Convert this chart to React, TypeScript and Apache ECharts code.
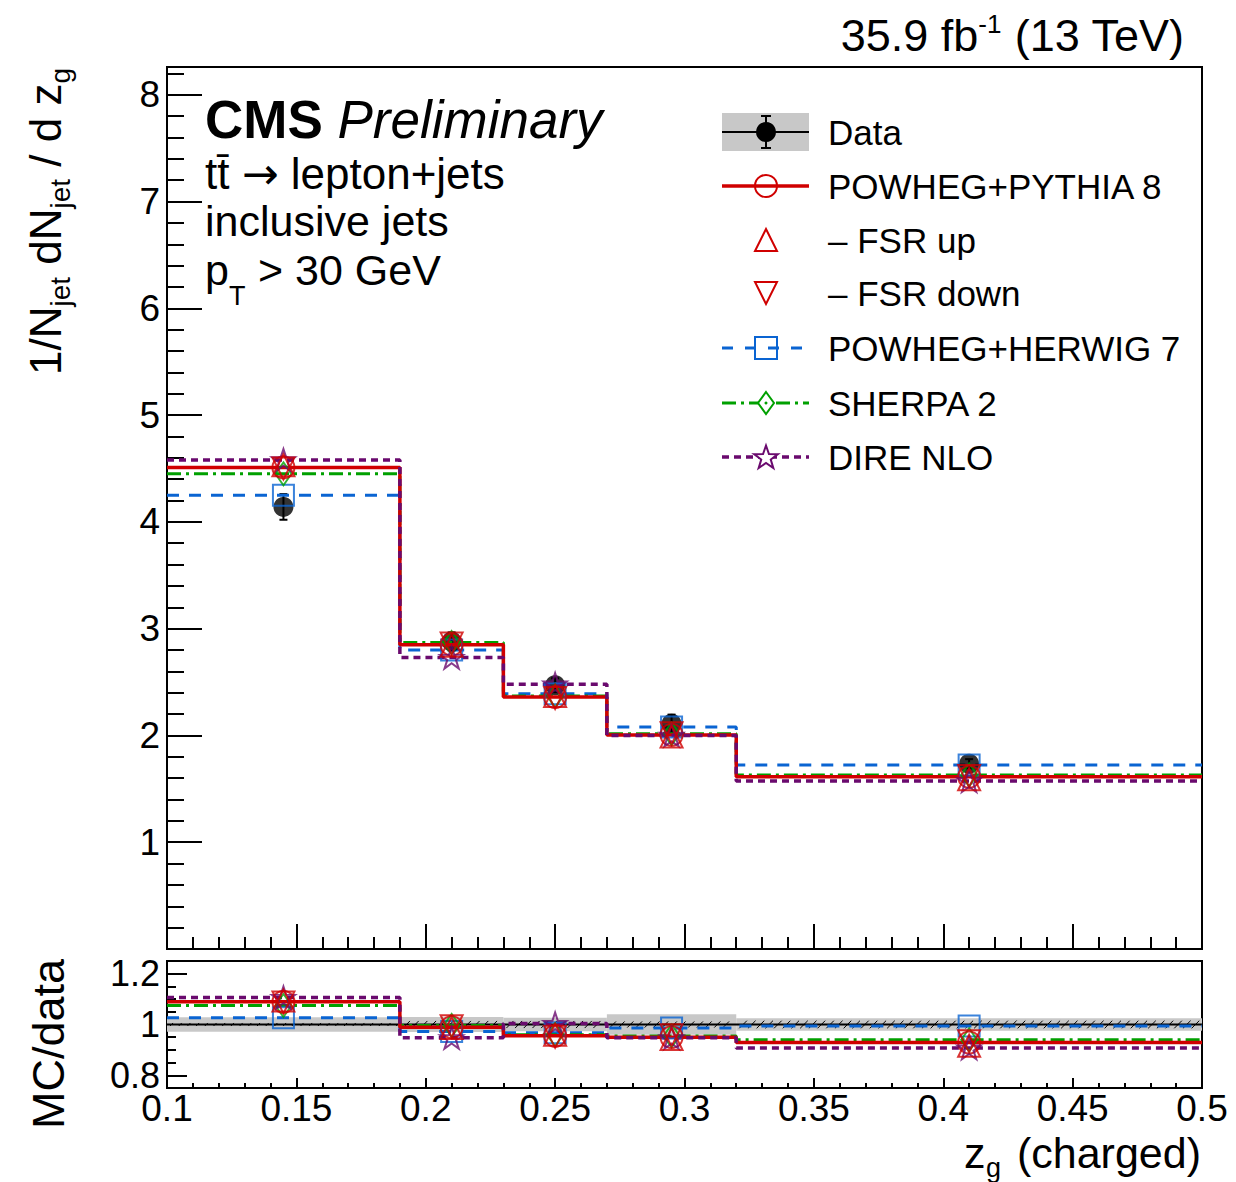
import React, { useEffect, useRef } from "react";
import * as echarts from "echarts";

// ---- data ----
const binEdges = [0.1, 0.19, 0.23, 0.27, 0.32, 0.5];
const dataValues = [4.14, 2.88, 2.47, 2.11, 1.735];
const dataUnc = [0.12, 0.085, 0.065, 0.085, 0.043];
const dataStatRel = [0.006, 0.014, 0.014, 0.012, 0.015];
const pythia8 = [4.51, 2.85, 2.36, 2.005, 1.612];
const fsrUp = [4.53, 2.84, 2.37, 1.99, 1.59];
const fsrDown = [4.5, 2.86, 2.35, 2.02, 1.62];
const herwig7 = [4.25, 2.8, 2.39, 2.08, 1.724];
const sherpa2 = [4.45, 2.87, 2.37, 2.015, 1.63];
const direNlo = [4.58, 2.73, 2.48, 2.0, 1.574];
const ratioYTicks = [0.8, 1, 1.2];
const legendNames = ["Data", "POWHEG+PYTHIA 8", "\u2013 FSR up", "\u2013 FSR down", "POWHEG+HERWIG 7", "SHERPA 2", "DIRE NLO"];

const FONT = "'Liberation Sans', Arial, Helvetica, sans-serif";
const RED = "#d00000";
const BLUE = "#0a64d2";
const GREEN = "#00a000";
const PURPLE = "#6a0a6e";
const GRAY = "#c8c8c8";
const STAR = "path://M50 0 L61.2 34.5 L97.6 34.5 L68.2 55.9 L79.4 90.5 L50 69.1 L20.6 90.5 L31.8 55.9 L2.4 34.5 L38.8 34.5 Z";

const centers = dataValues.map((_, i) => (binEdges[i] + binEdges[i + 1]) / 2);
const stepData = (vals: number[]) => [
  ...vals.map((v, i) => [binEdges[i], v]),
  [binEdges[vals.length], vals[vals.length - 1]],
];
const ratioOf = (vals: number[]) => vals.map((v, i) => v / dataValues[i]);
const pointData = (vals: number[]) => vals.map((v, i) => [centers[i], v]);

function starPoints(cx: number, cy: number, R: number, r: number) {
  const pts: number[][] = [];
  for (let k = 0; k < 10; k++) {
    const a = -Math.PI / 2 + (k * Math.PI) / 5;
    const rr = k % 2 === 0 ? R : r;
    pts.push([cx + rr * Math.cos(a), cy + rr * Math.sin(a)]);
  }
  return pts;
}

const mcDefs = [
  { vals: herwig7, color: BLUE, width: 3, type: [12, 10] as any, symbol: "rect", size: 21 as any },
  { vals: sherpa2, color: GREEN, width: 3, type: [14, 5, 3, 5] as any, symbol: "diamond", size: [16, 23] as any },
  { vals: pythia8, color: RED, width: 3.5, type: "solid" as any, symbol: "circle", size: 22 as any },
  { vals: direNlo, color: PURPLE, width: 3.5, type: [7, 5] as any, symbol: STAR, size: [23, 22] as any },
];
const markerOnly = [
  { vals: fsrUp, color: RED, symbol: "triangle", size: 22, rot: 0 },
  { vals: fsrDown, color: RED, symbol: "triangle", size: 22, rot: 180 },
];

function txt(x: number, baseline: number, text: string, fontSize: number, align = "left", extra: any = {}) {
  return {
    type: "text",
    x,
    y: baseline - 0.35 * fontSize,
    style: { text, fontSize, fontFamily: FONT, fill: "#000", align, verticalAlign: "middle", lineHeight: Math.round(fontSize * 0.8), ...extra },
  };
}

function buildOption() {
  const series: any[] = [];
  series.push({
    type: "custom",
    xAxisIndex: 0,
    yAxisIndex: 0,
    z: 2,
    data: centers.map((c, i) => [c, dataValues[i] - dataUnc[i], dataValues[i] + dataUnc[i]]),
    renderItem: (_p: any, api: any) => {
      const x = api.value(0);
      const a = api.coord([x, api.value(1)]);
      const b = api.coord([x, api.value(2)]);
      const st = { stroke: "#000", lineWidth: 2 };
      return {
        type: "group",
        children: [
          { type: "line", shape: { x1: a[0], y1: a[1], x2: b[0], y2: b[1] }, style: st },
          { type: "line", shape: { x1: a[0] - 4, y1: a[1], x2: a[0] + 4, y2: a[1] }, style: st },
          { type: "line", shape: { x1: b[0] - 4, y1: b[1], x2: b[0] + 4, y2: b[1] }, style: st },
        ],
      };
    },
  });
  series.push({
    type: "scatter",
    xAxisIndex: 0,
    yAxisIndex: 0,
    z: 3,
    symbol: "circle",
    symbolSize: 20,
    itemStyle: { color: "#000" },
    data: pointData(dataValues),
  });

  series.push({
    type: "custom",
    xAxisIndex: 2,
    yAxisIndex: 2,
    z: 1,
    data: dataValues.map((d, i) => [binEdges[i], binEdges[i + 1], 1 - dataUnc[i] / d, 1 + dataUnc[i] / d]),
    renderItem: (_p: any, api: any) => {
      const a = api.coord([api.value(0), api.value(3)]);
      const b = api.coord([api.value(1), api.value(2)]);
      return { type: "rect", shape: { x: a[0], y: a[1], width: b[0] - a[0], height: b[1] - a[1] }, style: { fill: GRAY } };
    },
  });
  series.push({
    type: "custom",
    xAxisIndex: 2,
    yAxisIndex: 2,
    z: 2,
    data: dataStatRel.map((s, i) => [binEdges[i], binEdges[i + 1], 1 - s, 1 + s]),
    renderItem: (_p: any, api: any) => {
      const a = api.coord([api.value(0), api.value(2)]);
      const b = api.coord([api.value(1), api.value(3)]);
      const h = Math.max(a[1] - b[1], 3);
      const yb = (a[1] + b[1]) / 2 + h / 2;
      const children: any[] = [];
      for (let x = a[0] + 3; x + h < b[0]; x += 8.7) {
        children.push({ type: "line", shape: { x1: x, y1: yb, x2: x + h, y2: yb - h }, style: { stroke: "#000", lineWidth: 1 } });
      }
      return { type: "group", children };
    },
  });
  series.push({
    type: "line",
    xAxisIndex: 2,
    yAxisIndex: 2,
    z: 2,
    step: "end",
    symbol: "none",
    lineStyle: { color: "#000", width: 2 },
    data: stepData(ratioOf(dataValues)),
  });

  mcDefs.forEach((m, k) => {
    [0, 1].forEach((panel) => {
      const vals = panel === 0 ? m.vals : ratioOf(m.vals);
      const ax = panel === 0 ? 0 : 2;
      series.push({
        type: "line",
        xAxisIndex: ax,
        yAxisIndex: ax,
        z: 3 + k * 0.01,
        step: "end",
        symbol: "none",
        lineStyle: { color: m.color, width: m.width, type: m.type },
        data: stepData(vals),
      });
      series.push({
        type: "scatter",
        xAxisIndex: ax,
        yAxisIndex: ax,
        z: 5,
        symbol: m.symbol,
        symbolSize: m.size,
        itemStyle: { color: "rgba(0,0,0,0)", borderColor: m.color, borderWidth: 2 },
        data: pointData(vals),
      });
    });
  });
  markerOnly.forEach((m) => {
    [0, 1].forEach((panel) => {
      const vals = panel === 0 ? m.vals : ratioOf(m.vals);
      const ax = panel === 0 ? 0 : 2;
      series.push({
        type: "scatter",
        xAxisIndex: ax,
        yAxisIndex: ax,
        z: 5,
        symbol: m.symbol,
        symbolSize: m.size,
        symbolRotate: m.rot,
        itemStyle: { color: "rgba(0,0,0,0)", borderColor: m.color, borderWidth: 2 },
        data: pointData(vals),
      });
    });
  });

  const axLine = { show: true, lineStyle: { color: "#000", width: 2 } };
  const noLine = { show: false };
  const fmtX = (v: number) => String(parseFloat(v.toFixed(2)));

  const xAxis: any[] = [
    { gridIndex: 0, position: "bottom", type: "value", min: 0.1, max: 0.5, interval: 0.05, axisLine: axLine, splitLine: { show: false },
      axisTick: { inside: true, length: 25, lineStyle: { color: "#000", width: 2 } }, axisLabel: { show: false } },
    { gridIndex: 0, position: "bottom", type: "value", min: 0.1, max: 0.5, interval: 0.01, axisLine: noLine, splitLine: { show: false },
      axisTick: { inside: true, length: 12, lineStyle: { color: "#000", width: 2 } }, axisLabel: { show: false } },
    { gridIndex: 1, position: "bottom", type: "value", min: 0.1, max: 0.5, interval: 0.05, axisLine: axLine, splitLine: { show: false },
      axisTick: { inside: true, length: 10, lineStyle: { color: "#000", width: 2 } },
      axisLabel: { show: true, formatter: fmtX, fontSize: 37, lineHeight: 32, fontFamily: FONT, color: "#000", margin: 4 } },
    { gridIndex: 1, position: "bottom", type: "value", min: 0.1, max: 0.5, interval: 0.01, axisLine: noLine, splitLine: { show: false },
      axisTick: { inside: true, length: 5, lineStyle: { color: "#000", width: 2 } }, axisLabel: { show: false } },
  ];
  const yAxis: any[] = [
    { gridIndex: 0, position: "left", type: "value", min: 0, max: 8.26, interval: 1, axisLine: axLine, splitLine: { show: false },
      axisTick: { inside: true, length: 35, lineStyle: { color: "#000", width: 2 } },
      axisLabel: { show: true, fontSize: 37, fontFamily: FONT, color: "#000", margin: 7,
        formatter: (v: number) => (v > 0.5 && Math.abs(v - Math.round(v)) < 1e-6 ? String(Math.round(v)) : "") } },
    { gridIndex: 0, position: "left", type: "value", min: 0, max: 8.26, interval: 0.2, axisLine: noLine, splitLine: { show: false },
      axisTick: { inside: true, length: 17, lineStyle: { color: "#000", width: 2 } }, axisLabel: { show: false } },
    { gridIndex: 1, position: "left", type: "value", min: 0.75, max: 1.25, axisLine: axLine, splitLine: { show: false },
      axisTick: { inside: true, length: 20, customValues: ratioYTicks, lineStyle: { color: "#000", width: 2 } },
      axisLabel: { show: true, customValues: ratioYTicks, fontSize: 36, fontFamily: FONT, color: "#000", margin: 7,
        formatter: (v: number) => String(parseFloat(v.toFixed(2))) } },
    { gridIndex: 1, position: "left", type: "value", min: 0.75, max: 1.25, interval: 0.05, axisLine: noLine, splitLine: { show: false },
      axisTick: { inside: true, length: 9, lineStyle: { color: "#000", width: 2 } }, axisLabel: { show: false } },
  ];

  // legend graphics
  const rows = [132, 186, 240, 293, 348, 403, 457];
  const lx0 = 722, lx1 = 809, mx = 766, tx = 828;
  const g: any[] = [];
  g.push({ type: "rect", shape: { x: lx0, y: rows[0] - 19, width: lx1 - lx0, height: 38 }, style: { fill: GRAY } });
  g.push({ type: "line", shape: { x1: lx0, y1: rows[0], x2: lx1, y2: rows[0] }, style: { stroke: "#000", lineWidth: 2 } });
  g.push({ type: "line", shape: { x1: mx, y1: rows[0] - 16, x2: mx, y2: rows[0] + 16 }, style: { stroke: "#000", lineWidth: 2 } });
  g.push({ type: "line", shape: { x1: mx - 5, y1: rows[0] - 16, x2: mx + 5, y2: rows[0] - 16 }, style: { stroke: "#000", lineWidth: 2 } });
  g.push({ type: "line", shape: { x1: mx - 5, y1: rows[0] + 16, x2: mx + 5, y2: rows[0] + 16 }, style: { stroke: "#000", lineWidth: 2 } });
  g.push({ type: "circle", shape: { cx: mx, cy: rows[0], r: 10 }, style: { fill: "#000" } });
  g.push({ type: "line", shape: { x1: lx0, y1: rows[1], x2: lx1, y2: rows[1] }, style: { stroke: RED, lineWidth: 3.5 } });
  g.push({ type: "circle", shape: { cx: mx, cy: rows[1], r: 11 }, style: { fill: "none", stroke: RED, lineWidth: 2 } });
  g.push({ type: "polygon", shape: { points: [[mx, rows[2] - 11], [mx + 11, rows[2] + 11], [mx - 11, rows[2] + 11]] }, style: { fill: "none", stroke: RED, lineWidth: 2 } });
  g.push({ type: "polygon", shape: { points: [[mx - 11, rows[3] - 11], [mx + 11, rows[3] - 11], [mx, rows[3] + 11]] }, style: { fill: "none", stroke: RED, lineWidth: 2 } });
  g.push({ type: "line", shape: { x1: lx0, y1: rows[4], x2: lx1, y2: rows[4] }, style: { stroke: BLUE, lineWidth: 3, lineDash: [11, 12] } });
  g.push({ type: "rect", shape: { x: mx - 11, y: rows[4] - 11, width: 22, height: 22 }, style: { fill: "none", stroke: BLUE, lineWidth: 2 } });
  g.push({ type: "line", shape: { x1: lx0, y1: rows[5], x2: lx1, y2: rows[5] }, style: { stroke: GREEN, lineWidth: 3, lineDash: [14, 5, 3, 5] } });
  g.push({ type: "polygon", shape: { points: [[mx, rows[5] - 11], [mx + 8, rows[5]], [mx, rows[5] + 11], [mx - 8, rows[5]]] }, style: { fill: "#fff", stroke: GREEN, lineWidth: 2 } });
  g.push({ type: "circle", shape: { cx: mx, cy: rows[5], r: 1.5 }, style: { fill: GREEN } });
  g.push({ type: "line", shape: { x1: lx0, y1: rows[6], x2: lx1, y2: rows[6] }, style: { stroke: PURPLE, lineWidth: 3.5, lineDash: [7, 5] } });
  g.push({ type: "polygon", shape: { points: starPoints(mx, rows[6] + 1, 12.5, 5) }, style: { fill: "#fff", stroke: PURPLE, lineWidth: 2 } });
  legendNames.forEach((name, i) => {
    g.push({ type: "text", x: tx, y: rows[i], style: { text: name, fontSize: 35, fontFamily: FONT, fill: "#000", align: "left", verticalAlign: "middle" } });
  });

  // texts
  g.push(txt(205, 138, "{b|CMS} {i|Preliminary}", 53, "left", {
    lineHeight: 53,
    rich: { b: { fontSize: 53, fontWeight: "bold", fontFamily: FONT }, i: { fontSize: 53, fontStyle: "italic", fontFamily: FONT } },
  }));
  g.push(txt(205, 189, "tt\u0304 {a|\u2192} lepton+jets", 44, "left", {
    rich: { a: { fontSize: 44, lineHeight: 35, fontFamily: "'DejaVu Sans', sans-serif" } },
  }));
  g.push(txt(205, 236, "inclusive jets", 43));
  g.push(txt(205, 285, "p", 43));
  g.push(txt(229, 305, "T", 27));
  g.push(txt(258, 285, "> 30 GeV", 43));
  g.push(txt(1184, 51, "35.9 fb{s|-1} (13 TeV)", 45, "right", {
    lineHeight: 49,
    rich: { s: { fontSize: 26, fontFamily: FONT, verticalAlign: "top" } },
  }));
  g.push(txt(964, 1168, "z", 43));
  g.push(txt(986, 1177, "g", 27));
  g.push(txt(1201, 1168, "(charged)", 43, "right"));
  g.push({ type: "text", x: 45, y: 68, rotation: Math.PI / 2, style: { text: "1/N{s|jet} dN{s|jet} / d z{s|g}", fontSize: 44, fontFamily: FONT, fill: "#000", align: "right", verticalAlign: "middle", lineHeight: 59,
    rich: { s: { fontSize: 28, fontFamily: FONT, verticalAlign: "bottom" } } } });
  g.push({ type: "text", x: 48, y: 1044, rotation: Math.PI / 2, style: { text: "MC/data", fontSize: 45, fontFamily: FONT, fill: "#000", align: "center", verticalAlign: "middle" } });

  return {
    animation: false,
    backgroundColor: "#fff",
    textStyle: { fontFamily: FONT },
    grid: [
      { left: 167, top: 67, width: 1035, height: 882, show: true, borderColor: "#000", borderWidth: 2, backgroundColor: "rgba(0,0,0,0)", containLabel: false, outerBoundsMode: "none" },
      { left: 167, top: 961, width: 1035, height: 127, show: true, borderColor: "#000", borderWidth: 2, backgroundColor: "rgba(0,0,0,0)", containLabel: false, outerBoundsMode: "none" },
    ],
    xAxis,
    yAxis,
    series,
    graphic: g,
  };
}

export default function App() {
  const ref = useRef<HTMLDivElement>(null);
  useEffect(() => {
    document.body.style.margin = "0";
    if (!ref.current) return;
    const chart = echarts.init(ref.current, undefined, { renderer: "svg" });
    chart.setOption(buildOption() as any);
    return () => chart.dispose();
  }, []);
  return <div ref={ref} style={{ width: 1236, height: 1182, background: "#fff" }} />;
}
